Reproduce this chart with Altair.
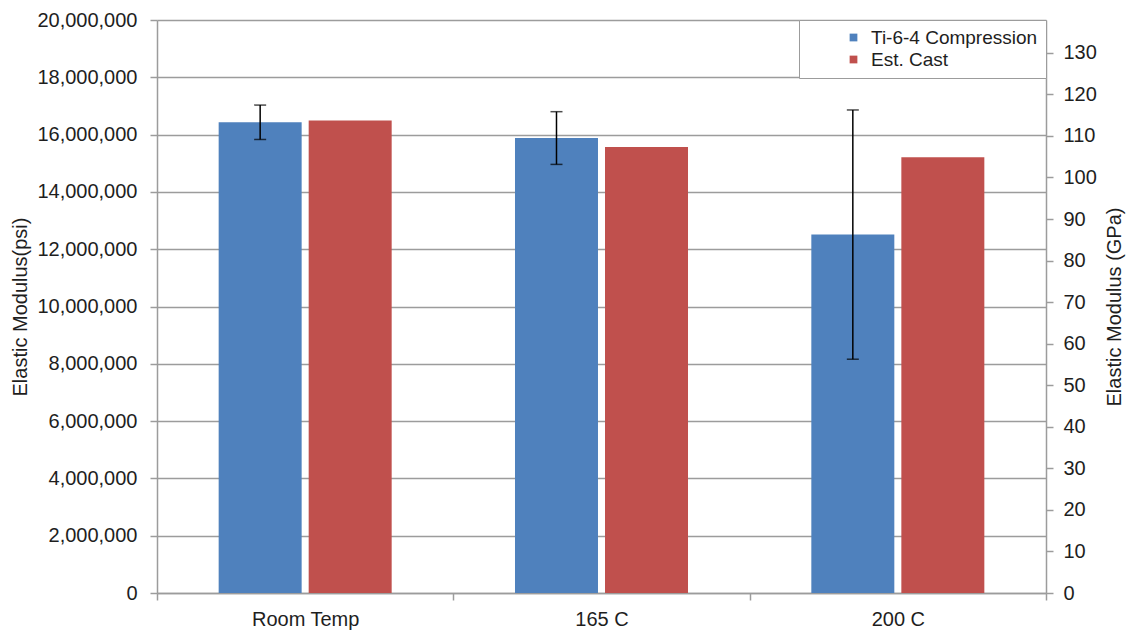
import altair as alt
import pandas as pd

categories = ["Room Temp", "165 C", "200 C"]
series = ["Ti-6-4 Compression", "Est. Cast"]
ti64_psi = [16430000, 15880000, 12510000]
ti64_err = [600000, 920000, 4350000]
cast_psi = [16490000, 15570000, 15210000]
psi_ticks = list(range(0, 20000001, 2000000))
gpa_ticks = list(range(0, 131, 10))
colors = ["#4F81BD", "#C0504D"]
PSI_TO_GPA = 6.894757e-6
PSI_MAX = 20000000

rows = []
for c, v, e in zip(categories, ti64_psi, ti64_err):
    rows.append(dict(cat=c, series=series[0], value=v, lo=v - e, hi=v + e))
for c, v in zip(categories, cast_psi):
    rows.append(dict(cat=c, series=series[1], value=v, lo=v, hi=v))
df = pd.DataFrame(rows)
df["gpa"] = df["value"] * PSI_TO_GPA

FONT = "Liberation Sans"
GRAY = "#9c9c9c"
TXT = "#1e1e1e"

x_enc = alt.X(
    "cat:N", sort=categories, title=None,
    scale=alt.Scale(paddingInner=0, paddingOuter=0),
    axis=alt.Axis(labelAngle=0, tickBand="extent", tickSize=7, labelFontSize=20,
                  labelPadding=9, labelColor=TXT, domainColor=GRAY, tickColor=GRAY,
                  domainWidth=1.5, tickWidth=1.5, grid=False),
)
xo_enc = alt.XOffset("series:N", sort=series,
                     scale=alt.Scale(domain=series, paddingInner=0.078, paddingOuter=0.685))
psi_scale = alt.Scale(domain=[0, PSI_MAX], nice=False)
psi_title = "Elastic Modulus(psi)"
psi_axis = alt.Axis(values=psi_ticks, format=",d", labelFontSize=20, labelColor=TXT,
                    labelPadding=13, tickSize=7, titleFontSize=20, titlePadding=6,
                    titleFontWeight="normal", titleColor=TXT,
                    grid=True, gridColor=GRAY, gridWidth=1.5,
                    domainColor=GRAY, tickColor=GRAY, domainWidth=1.5, tickWidth=1.5)

bars = alt.Chart(df).mark_bar().encode(
    x=x_enc, xOffset=xo_enc,
    y=alt.Y("value:Q", scale=psi_scale, title=psi_title, axis=psi_axis),
    color=alt.Color("series:N", sort=series,
                    scale=alt.Scale(domain=series, range=colors),
                    legend=alt.Legend(title=None, orient="top-right", offset=0,
                                      strokeColor=GRAY, fillColor="white", padding=8,
                                      labelFontSize=19, labelColor=TXT, labelLimit=400,
                                      symbolType="square",
                                      symbolSize=60, symbolStrokeWidth=0, rowPadding=2,
                                      symbolOffset=37, labelOffset=8)),
)

err_base = alt.Chart(df).transform_filter(alt.datum.series == series[0])
err_rule = err_base.mark_rule(color="black", strokeWidth=1.5).encode(
    x=x_enc, xOffset=xo_enc,
    y=alt.Y("lo:Q", scale=psi_scale, title=psi_title, axis=psi_axis), y2="hi:Q",
)
cap_lo = err_base.mark_tick(color="black", thickness=1.5, size=12).encode(
    x=x_enc, xOffset=xo_enc,
    y=alt.Y("lo:Q", scale=psi_scale, title=psi_title, axis=psi_axis),
)
cap_hi = err_base.mark_tick(color="black", thickness=1.5, size=12).encode(
    x=x_enc, xOffset=xo_enc,
    y=alt.Y("hi:Q", scale=psi_scale, title=psi_title, axis=psi_axis),
)

right = alt.Chart(df).mark_point(opacity=0).encode(
    x=x_enc, xOffset=xo_enc,
    y=alt.Y("gpa:Q", scale=alt.Scale(domain=[0, PSI_MAX * PSI_TO_GPA], nice=False),
            title="Elastic Modulus (GPa)",
            axis=alt.Axis(orient="right", values=gpa_ticks, labelFontSize=20,
                          labelColor=TXT, labelPadding=10, tickSize=7, grid=False,
                          titleFontSize=20, titleFontWeight="normal", titleColor=TXT,
                          titleAngle=270, titlePadding=28,
                          domainColor=GRAY, tickColor=GRAY, domainWidth=1.5, tickWidth=1.5)),
)

left = alt.layer(bars, err_rule, cap_lo, cap_hi)
chart = (
    alt.layer(left, right)
    .resolve_scale(y="independent")
    .properties(width=889, height=573,
                autosize=alt.AutoSizeParams(type="none"),
                padding={"left": 149, "top": 12, "right": 80, "bottom": 40})
    .configure(font=FONT)
    .configure_view(stroke=None)
)

chart.save("out.html", embed_options={"renderer": "svg", "actions": False})
